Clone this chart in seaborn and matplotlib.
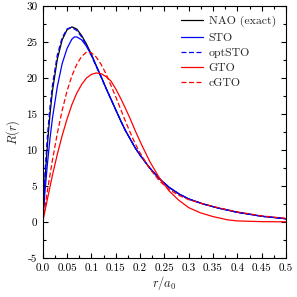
import numpy as np
import pandas as pd
import matplotlib
matplotlib.use("Agg")
import matplotlib.pyplot as plt
import seaborn as sns
from matplotlib.ticker import MultipleLocator, FixedLocator, FixedFormatter

# ---- data ----
r_nao = [0, 0.005, 0.01, 0.015, 0.02, 0.03, 0.04, 0.05, 0.06, 0.07, 0.08, 0.09, 0.10,
         0.11, 0.12, 0.13, 0.14, 0.15, 0.16, 0.17, 0.18, 0.19, 0.20, 0.22, 0.24, 0.26,
         0.28, 0.30, 0.33, 0.36, 0.40, 0.45, 0.50]
R_nao = [0, 6.2, 11.0, 15.0, 18.2, 22.6, 25.3, 26.7, 27.1, 26.8, 25.9, 24.7, 23.3,
         21.7, 20.2, 18.6, 17.1, 15.6, 14.1, 12.7, 11.5, 10.3, 9.3, 7.5, 6.0, 4.8,
         3.9, 3.2, 2.5, 1.95, 1.35, 0.8, 0.45]

r_sto = [0, 0.005, 0.01, 0.015, 0.02, 0.03, 0.04, 0.05, 0.06, 0.065, 0.07, 0.08, 0.09,
         0.10, 0.11, 0.12, 0.13, 0.14, 0.15, 0.16, 0.17, 0.18, 0.19, 0.20, 0.22, 0.24,
         0.26, 0.28, 0.30, 0.33, 0.36, 0.40, 0.45, 0.50]
R_sto = [0, 4.5, 8.3, 11.6, 14.4, 18.8, 22.0, 24.1, 25.4, 25.7, 25.7, 25.3, 24.4,
         23.2, 21.7, 20.2, 18.6, 17.1, 15.6, 14.1, 12.7, 11.5, 10.3, 9.3, 7.5, 6.0,
         4.8, 3.9, 3.2, 2.5, 1.95, 1.35, 0.8, 0.45]

r_opt = [0, 0.005, 0.01, 0.015, 0.02, 0.03, 0.04, 0.05, 0.057, 0.06, 0.07, 0.08, 0.09,
         0.10, 0.11, 0.12, 0.13, 0.14, 0.15, 0.16, 0.17, 0.18, 0.19, 0.20, 0.22, 0.24,
         0.26, 0.28, 0.30, 0.33, 0.36, 0.40, 0.45, 0.50]
R_opt = [0, 7.2, 12.2, 16.0, 19.0, 23.2, 25.6, 26.8, 27.0, 27.0, 26.6, 25.7, 24.5,
         23.1, 21.6, 20.1, 18.6, 17.1, 15.6, 14.1, 12.7, 11.5, 10.3, 9.3, 7.5, 6.0,
         4.8, 3.9, 3.2, 2.5, 1.95, 1.35, 0.8, 0.45]

r_gto = [0, 0.01, 0.02, 0.03, 0.04, 0.05, 0.06, 0.07, 0.08, 0.09, 0.10, 0.11, 0.12,
         0.13, 0.14, 0.15, 0.16, 0.17, 0.18, 0.19, 0.20, 0.22, 0.24, 0.26, 0.28, 0.30,
         0.323, 0.35, 0.38, 0.40, 0.45, 0.50]
R_gto = [0, 3.3, 6.5, 9.4, 12.0, 14.3, 16.3, 17.9, 19.1, 20.0, 20.5, 20.7, 20.6,
         20.2, 19.6, 18.5, 17.2, 15.8, 14.3, 12.7, 11.2, 8.4, 6.1, 4.3, 3.0, 2.0,
         1.3, 0.75, 0.3, 0.15, 0.05, 0.02]

r_cgto = [0, 0.01, 0.02, 0.03, 0.04, 0.05, 0.06, 0.07, 0.08, 0.09, 0.10, 0.11, 0.12,
          0.13, 0.14, 0.15, 0.16, 0.17, 0.18, 0.19, 0.20, 0.22, 0.24, 0.26, 0.28, 0.30,
          0.33, 0.36, 0.40, 0.45, 0.50]
R_cgto = [0, 4.5, 8.6, 12.3, 15.5, 18.2, 20.3, 21.9, 23.0, 23.6, 23.5, 22.9, 21.9,
          20.6, 19.0, 17.4, 15.7, 14.0, 12.4, 10.9, 9.6, 7.4, 5.7, 4.5, 3.7, 3.1,
          2.5, 2.0, 1.4, 0.85, 0.5]

labels = ["NAO (exact)", "STO", "optSTO", "GTO", "cGTO"]
x_ticks = [0.0, 0.05, 0.1, 0.15, 0.2, 0.25, 0.3, 0.35, 0.4, 0.45, 0.5]
x_ticklabels = ["0.0", "0.05", "0.1", "0.15", "0.2", "0.25", "0.3", "0.35", "0.4", "0.45", "0.5"]
y_ticks = [-5, 0, 5, 10, 15, 20, 25, 30]
y_ticklabels = ["-5", "0", "5", "10", "15", "20", "25", "30"]

# ---- style ----
sns.set_theme(style="ticks")
plt.rcParams["font.family"] = ["cmr10", "DejaVu Serif"]
plt.rcParams["mathtext.fontset"] = "cm"
plt.rcParams["axes.unicode_minus"] = False

fig = plt.figure(figsize=(2.97, 2.97), dpi=100)
ax = fig.add_axes([0.1438, 0.1313, 0.963 - 0.1438, 0.9798 - 0.1313])

series = [
    (r_nao, R_nao, "black", "-"),
    (r_sto, R_sto, "#0000ff", "-"),
    (r_opt, R_opt, "#0000ff", (0, (4, 2))),
    (r_gto, R_gto, "#ff0000", "-"),
    (r_cgto, R_cgto, "#ff0000", (0, (4, 2))),
]
for (xs, ys, c, ls), lab in zip(series, labels):
    df = pd.DataFrame({"r": xs, "R": ys})
    sns.lineplot(data=df, x="r", y="R", ax=ax, color=c, linestyle=ls,
                 linewidth=0.9, label=lab)

ax.set_xlim(0, 0.5)
ax.set_ylim(-5, 30)
ax.xaxis.set_major_locator(FixedLocator(x_ticks))
ax.xaxis.set_major_formatter(FixedFormatter(x_ticklabels))
ax.yaxis.set_major_locator(FixedLocator(y_ticks))
ax.yaxis.set_major_formatter(FixedFormatter(y_ticklabels))
ax.xaxis.set_minor_locator(MultipleLocator(0.025))
ax.yaxis.set_minor_locator(MultipleLocator(2.5))
ax.tick_params(which="both", direction="in", top=True, right=True,
               labelsize=8, colors="black", width=0.8)
ax.tick_params(which="major", length=3.5, pad=4)
ax.tick_params(which="minor", length=2)
for s in ax.spines.values():
    s.set_linewidth(0.8)
    s.set_color("black")

ax.set_xlabel("$r/a_0$", fontsize=9, labelpad=1)
ax.set_ylabel("$R(r)$", fontsize=9, labelpad=3)

leg = ax.legend(loc="upper right", frameon=False, fontsize=8.5, handlelength=1.9,
                handletextpad=0.45, labelspacing=0.42, borderaxespad=0.55,
                borderpad=0.3)

fig.savefig("out.png", dpi=100)
